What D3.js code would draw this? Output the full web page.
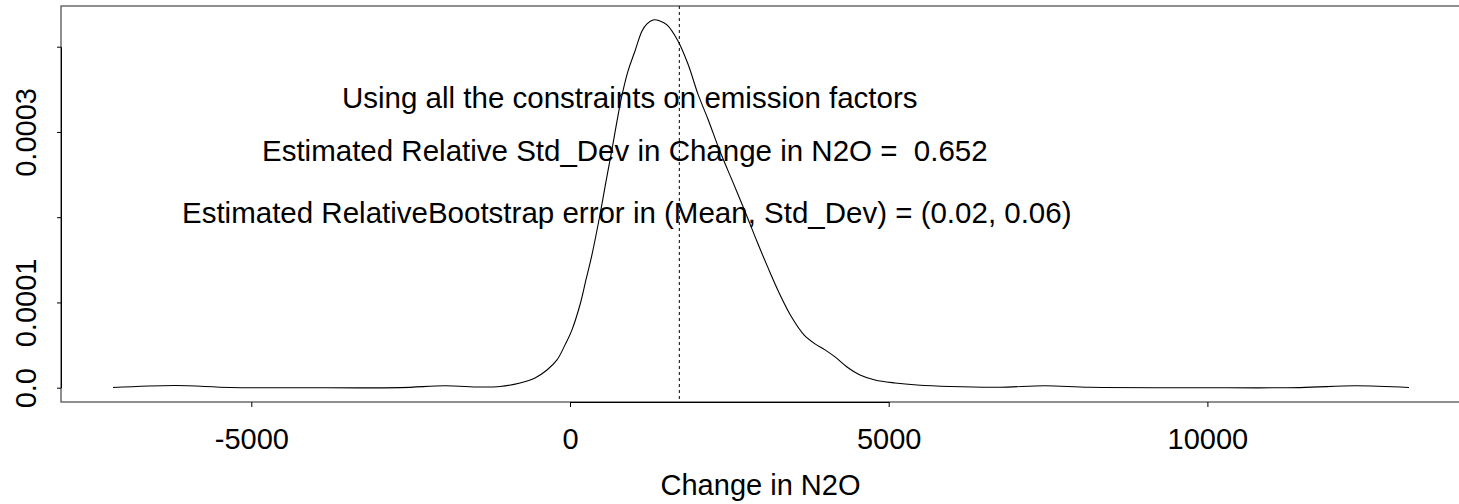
<!DOCTYPE html>
<html><head><meta charset="utf-8">
<script src="https://cdn.jsdelivr.net/npm/d3@7"></script>
<style>body{margin:0;background:#fff}svg{display:block}text{font-family:"Liberation Sans",Arial,sans-serif;fill:#000}</style>
</head><body><svg id="c" width="1459" height="504"></svg>
<script>
// Data
const densX = [-7170,-6197,-5334,-4236,-2667,-1961,-1412,-1098,-784,-549,-361,-204,-78,31,157,251,345,471,565,659,737,816,910,1020,1130,1208,1302,1412,1522,1694,1851,2008,2165,2353,2557,2746,2934,3106,3295,3483,3671,3844,4001,4158,4346,4550,4785,5099,5444,5962,6746,7452,8158,9884,11453,12316,13163];
const densY = [2.4e-7,2.59e-6,2.4e-7,0,1.2e-7,2.24e-6,8.2e-7,1.41e-6,5.53e-6,1.141e-5,2.082e-5,3.259e-5,5.024e-5,6.788e-5,9.729e-5,1.2671e-4,1.5612e-4,2.0318e-4,2.42e-4,2.7965e-4,3.1259e-4,3.4318e-4,3.714e-4,3.95e-4,4.1847e-4,4.2671e-4,4.3141e-4,4.3024e-4,4.2553e-4,4.0671e-4,3.7965e-4,3.4435e-4,3.1494e-4,2.7729e-4,2.4082e-4,2.0671e-4,1.7141e-4,1.4082e-4,1.0906e-4,8.2e-5,6.2e-5,5.141e-5,4.435e-5,3.612e-5,2.435e-5,1.494e-5,9.06e-6,5.53e-6,3.18e-6,1.41e-6,5.9e-7,2.24e-6,4.7e-7,0,1.2e-7,2.24e-6,2.4e-7];
const meanValue = 1715;
const xTicks = [-5000,0,5000,10000];
const xTickLabels = ["-5000","0","5000","10000"];
const yTicks = [0,0.0001,0.0002,0.0003,0.0004];
const yTickLabels = ["0.0","0.0001","","0.0003",""];
const annotations = [
  "Using all the constraints on emission factors",
  "Estimated Relative Std_Dev in Change in N2O =  0.652",
  "Estimated RelativeBootstrap error in (Mean, Std_Dev) = (0.02, 0.06)"
];
const xTitle = "Change in N2O";

const svg = d3.select("#c");
const x = d3.scaleLinear().domain([0,5000]).range([570,888.7]);
const y = d3.scaleLinear().domain([0,0.0004]).range([387.7,46.7]);
const FS = 29;

// box
svg.append("rect").attr("x",61).attr("y",6).attr("width",1420).attr("height",396)
  .attr("fill","none").attr("stroke","#555").attr("stroke-width",1.3);

// x axis
const xa = svg.append("g").attr("transform","translate(0,402)")
  .call(d3.axisBottom(x).tickValues(xTicks).tickFormat((d,i)=>xTickLabels[i]).tickSizeOuter(0).tickSizeInner(5));
xa.select(".domain").attr("stroke","#000");
xa.selectAll("text").style("font-size",FS+"px").attr("dy",null).attr("y",47);
// y axis
const ya = svg.append("g").attr("transform","translate(61,0)")
  .call(d3.axisLeft(y).tickValues(yTicks).tickFormat((d,i)=>yTickLabels[i]).tickSizeOuter(0).tickSizeInner(4));
ya.select(".domain").attr("stroke","#000");
ya.selectAll("text").style("font-size",FS+"px").attr("text-anchor","middle")
  .attr("x",null).attr("dy",null)
  .attr("transform","translate(-25,0) rotate(-90)");

// curve
const line = d3.line().x((d,i)=>x(densX[i])).y((d,i)=>y(densY[i])).curve(d3.curveCatmullRom.alpha(0.5));
svg.append("path").attr("d",line(densX)).attr("fill","none").attr("stroke","#000").attr("stroke-width",1.1);

// mean dashed line
svg.append("line").attr("x1",x(meanValue)).attr("x2",x(meanValue)).attr("y1",6).attr("y2",402)
  .attr("stroke","#000").attr("stroke-width",1).attr("stroke-dasharray","3,3");

// annotations
const annX = [342,262,182], annY = [108,161,223];
svg.selectAll(".ann").data(annotations).join("text").attr("class","ann")
  .attr("x",(d,i)=>annX[i]).attr("y",(d,i)=>annY[i]).style("font-size","29.5px").style("white-space","pre").text(d=>d);

svg.append("text").attr("x",760.5).attr("y",495).attr("text-anchor","middle").style("font-size",FS+"px").text(xTitle);
</script></body></html>
